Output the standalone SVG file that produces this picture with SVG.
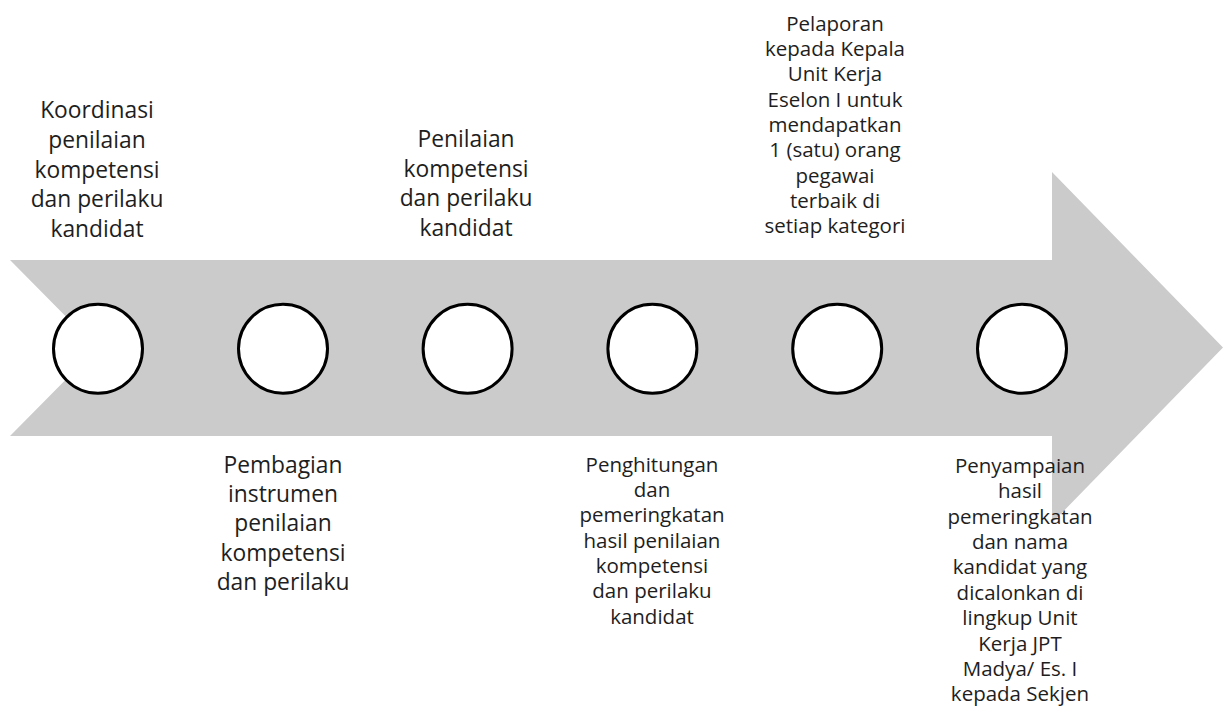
<svg xmlns="http://www.w3.org/2000/svg" width="1223" height="712" viewBox="0 0 1223 712">
<style>
.arrow{fill:#cbcbcb;stroke:none}
.node circle{fill:#ffffff;stroke:#000000;stroke-width:3}
.lbl{font-family:"Open Sans","Noto Sans",sans-serif;fill:#1e1e1e;text-anchor:middle}
.big{font-size:22.8px}
.small{font-size:20.5px}
</style>
<rect width="1223" height="712" fill="#ffffff"/>
<g id="arrow">
<polygon class="arrow" points="10,260 1052,260 1052,172 1223,347.5 1052,523 1052,436 10,436 97,348"/>
</g>
<g id="connectors"></g>
<g id="node1" class="node">
<circle cx="98" cy="348.8" r="44.5"/>
<text class="lbl big"><tspan x="97" y="118.3">Koordinasi</tspan><tspan x="97" y="148">penilaian</tspan><tspan x="97" y="177.7">kompetensi</tspan><tspan x="97" y="207.3">dan perilaku</tspan><tspan x="97" y="237">kandidat</tspan></text>
</g>
<g id="node2" class="node">
<circle cx="283" cy="348.8" r="44.5"/>
<text class="lbl big"><tspan x="283" y="472.7">Pembagian</tspan><tspan x="283" y="502">instrumen</tspan><tspan x="283" y="531.4">penilaian</tspan><tspan x="283" y="560.7">kompetensi</tspan><tspan x="283" y="590">dan perilaku</tspan></text>
</g>
<g id="node3" class="node">
<circle cx="467.6" cy="348.8" r="44.5"/>
<text class="lbl big"><tspan x="466" y="146.7">Penilaian</tspan><tspan x="466" y="176.5">kompetensi</tspan><tspan x="466" y="206.2">dan perilaku</tspan><tspan x="466" y="236">kandidat</tspan></text>
</g>
<g id="node4" class="node">
<circle cx="652.4" cy="348.8" r="44.5"/>
<text class="lbl small"><tspan x="652" y="471.7">Penghitungan</tspan><tspan x="652" y="497">dan</tspan><tspan x="652" y="522.3">pemeringkatan</tspan><tspan x="652" y="547.6">hasil penilaian</tspan><tspan x="652" y="572.9">kompetensi</tspan><tspan x="652" y="598.2">dan perilaku</tspan><tspan x="652" y="623.5">kandidat</tspan></text>
</g>
<g id="node5" class="node">
<circle cx="837.2" cy="348.8" r="44.5"/>
<text class="lbl small"><tspan x="835" y="30.7">Pelaporan</tspan><tspan x="835" y="56">kepada Kepala</tspan><tspan x="835" y="81.3">Unit Kerja</tspan><tspan x="835" y="106.6">Eselon I untuk</tspan><tspan x="835" y="131.9">mendapatkan</tspan><tspan x="835" y="157.2">1 (satu) orang</tspan><tspan x="835" y="182.5">pegawai</tspan><tspan x="835" y="207.8">terbaik di</tspan><tspan x="835" y="233.1">setiap kategori</tspan></text>
</g>
<g id="node6" class="node">
<circle cx="1022" cy="348.8" r="44.5"/>
<text class="lbl small"><tspan x="1020" y="472.7">Penyampaian</tspan><tspan x="1020" y="498.1">hasil</tspan><tspan x="1020" y="523.5">pemeringkatan</tspan><tspan x="1020" y="548.9">dan nama</tspan><tspan x="1020" y="574.3">kandidat yang</tspan><tspan x="1020" y="599.7">dicalonkan di</tspan><tspan x="1020" y="625.1">lingkup Unit</tspan><tspan x="1020" y="650.5">Kerja JPT</tspan><tspan x="1020" y="675.9">Madya/ Es. I</tspan><tspan x="1020" y="701.3">kepada Sekjen</tspan></text>
</g>
</svg>
